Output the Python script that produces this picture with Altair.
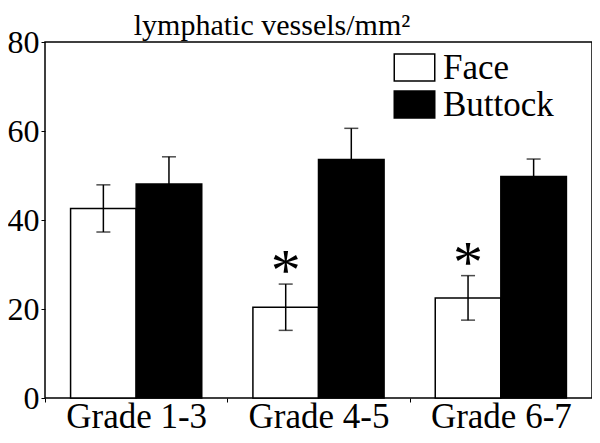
import altair as alt
import pandas as pd

grades = ["Grade 1-3", "Grade 4-5", "Grade 6-7"]
series = ["Face", "Buttock"]
face_means = [42.6, 20.4, 22.5]
face_err = [5.3, 5.2, 5.0]
buttock_means = [48.1, 53.6, 49.8]
buttock_err = [6.1, 7.0, 3.9]
significant = [False, True, True]
title_text = ["lymphatic vessels/mm²"]

rows = []
for i, g in enumerate(grades):
    rows.append(dict(grade=g, series="Face", mean=face_means[i],
                     lo=face_means[i] - face_err[i], hi=face_means[i] + face_err[i],
                     star="*" if significant[i] else ""))
    rows.append(dict(grade=g, series="Buttock", mean=buttock_means[i],
                     lo=buttock_means[i], hi=buttock_means[i] + buttock_err[i],
                     star=""))
df = pd.DataFrame(rows)

FONT = "Liberation Serif"

x = alt.X("grade:N", sort=grades, title=None,
          scale=alt.Scale(paddingInner=0, paddingOuter=0),
          axis=alt.Axis(domain=False, tickBand="extent", tickSize=4, tickColor="black",
                        tickWidth=1, labelAngle=0, labelFont=FONT, labelFontSize=35,
                        labelColor="black", labelPadding=25,
                        labelBaseline="alphabetic"))
xo = alt.XOffset("series:N", sort=series,
                 scale=alt.Scale(paddingInner=0, paddingOuter=0.39))
y_scale = alt.Scale(domain=[0, 80], nice=False)

bars = alt.Chart(df).mark_bar(stroke="black", strokeWidth=1.5).encode(
    x=x, xOffset=xo,
    y=alt.Y("mean:Q", scale=y_scale, title=None,
            axis=alt.Axis(values=[0, 20, 40, 60, 80], domain=False, grid=False,
                          tickSize=4, tickColor="black", tickWidth=1,
                          labelFont=FONT, labelFontSize=32, labelColor="black",
                          labelPadding=2)),
    fill=alt.Fill("series:N", sort=series,
                  scale=alt.Scale(domain=series, range=["white", "black"]),
                  legend=alt.Legend(title=None, orient="none", legendX=352, legendY=8,
                                    symbolType="M-1.5,-1L1.5,-1L1.5,1L-1.5,1Z",
                                    symbolSize=729, symbolStrokeColor="black",
                                    symbolStrokeWidth=1.5, labelFont=FONT,
                                    labelFontSize=35, labelColor="black",
                                    labelOffset=11, rowPadding=1, symbolOpacity=1)),
)

err = alt.Chart(df).mark_rule(color="black", strokeWidth=1.5).encode(
    x=x, xOffset=xo, y=alt.Y("lo:Q", scale=y_scale), y2="hi:Q")

cap_hi = alt.Chart(df).mark_tick(color="black", thickness=1.5, size=14).encode(
    x=x, xOffset=xo, y=alt.Y("hi:Q", scale=y_scale))
cap_lo = alt.Chart(df).transform_filter(alt.datum.series == "Face").mark_tick(
    color="black", thickness=1.5, size=14).encode(
    x=x, xOffset=xo, y=alt.Y("lo:Q", scale=y_scale))

stars = alt.Chart(df).mark_text(font=FONT, fontSize=60, baseline="alphabetic",
                                dy=6, color="black").encode(
    x=x, xOffset=xo, y=alt.Y("hi:Q", scale=y_scale), text="star:N")

title = alt.Chart(pd.DataFrame({"t": title_text})).mark_text(
    font=FONT, fontSize=30, baseline="alphabetic", align="center", color="black"
).encode(x=alt.value(227), y=alt.value(-7), text="t:N")

chart = alt.layer(bars, err, cap_hi, cap_lo, stars, title).properties(
    width=547, height=356,
    autosize=alt.AutoSizeParams(type="none"),
    padding={"left": 37, "top": 34, "right": 0, "bottom": 37},
    background="white",
).configure_view(stroke="black", strokeWidth=1.5)

chart.save("out.html", embed_options={"renderer": "svg", "actions": False})
